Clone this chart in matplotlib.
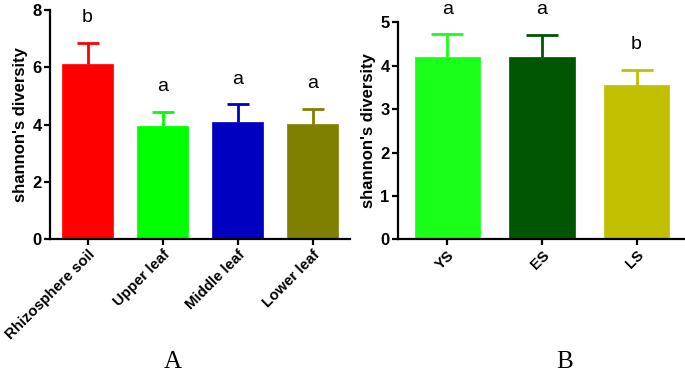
import matplotlib
matplotlib.use("Agg")
import matplotlib.pyplot as plt

plt.rcParams['font.family'] = ['Liberation Sans', 'DejaVu Sans']

# Panel A data
cats_a = ["Rhizosphere soil", "Upper leaf", "Middle leaf", "Lower leaf"]
vals_a = [6.10, 3.96, 4.10, 4.01]
errs_a = [0.76, 0.49, 0.61, 0.54]
letters_a = ["b", "a", "a", "a"]
colors_a = ["#FF0000", "#00FF00", "#0000C0", "#808000"]

# Panel B data
cats_b = ["YS", "ES", "LS"]
vals_b = [4.21, 4.20, 3.56]
errs_b = [0.52, 0.51, 0.35]
letters_b = ["a", "a", "b"]
colors_b = ["#1AFF1A", "#005500", "#C0C000"]

fig = plt.figure(figsize=(6.85, 3.73), dpi=100)
axA = fig.add_axes([0.073, 0.359, 0.438, 0.614])
axB = fig.add_axes([0.581, 0.358, 0.4175, 0.582])


def draw(ax, cats, vals, errs, letters, colors, ymax, yticks, capw, xlim):
    x = list(range(len(cats)))
    ax.bar(x, vals, width=0.69, color=colors, edgecolor=colors, linewidth=0.5, zorder=2)
    for xi, v, e, c in zip(x, vals, errs, colors):
        ax.vlines(xi, v, v + e, colors=c, linewidth=2, zorder=1)
        ax.plot([xi], [v + e], marker='_', markersize=capw, markeredgewidth=2,
                color=c, zorder=1, clip_on=False)
    for xi, v, e, l in zip(x, vals, errs, letters):
        ax.annotate(l, (xi, v + e), xytext=(0, 18), textcoords='offset points',
                    ha='center', va='center', fontsize=14, annotation_clip=False)
    ax.set_xlim(*xlim)
    ax.set_ylim(0, ymax)
    ax.set_yticks(yticks)
    ax.set_xticks(x)
    ax.set_xticklabels(cats, rotation=45, ha='right', rotation_mode='anchor',
                       fontweight='bold', fontsize=10.8)
    for lab in ax.get_yticklabels():
        lab.set_fontweight('bold')
        lab.set_fontsize(12)
    ax.spines['top'].set_visible(False)
    ax.spines['right'].set_visible(False)
    ax.spines['left'].set_linewidth(1.6)
    ax.spines['bottom'].set_linewidth(1.6)
    ax.tick_params(axis='both', width=1.6, length=4, pad=2)
    ax.set_ylabel("shannon's diversity", fontweight='bold', fontsize=12, labelpad=3)


draw(axA, cats_a, vals_a, errs_a, letters_a, colors_a, 8, [0, 2, 4, 6, 8], 16, (-0.5, 3.5))
draw(axB, cats_b, vals_b, errs_b, letters_b, colors_b, 5, [0, 1, 2, 3, 4, 5], 23, (-0.52, 2.5))

fig.text(173 / 685, 1 - 362 / 373, "A", family='Liberation Serif', fontsize=18,
         ha='center', va='center')
fig.text(565 / 685, 1 - 362 / 373, "B", family='Liberation Serif', fontsize=18,
         ha='center', va='center')

fig.savefig("out.png", dpi=100)
